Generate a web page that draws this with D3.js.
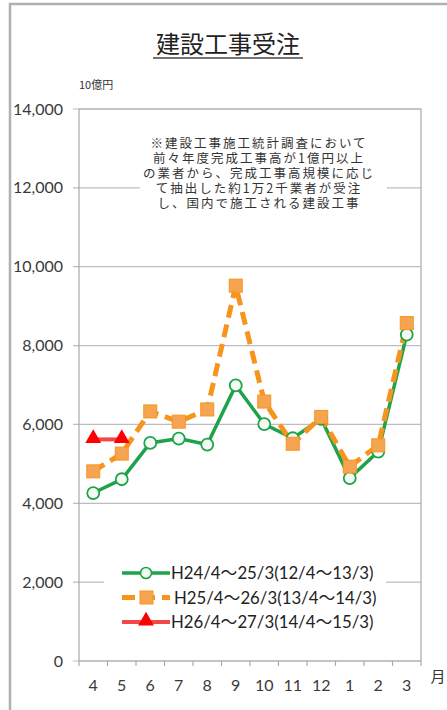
<!DOCTYPE html>
<html>
<head>
<meta charset="utf-8">
<script src="https://cdn.jsdelivr.net/npm/d3@7"></script>
<style>
  body { margin: 0; background: #fff; }
  svg { font-family: Lato, "Noto Sans CJK JP", "Noto Sans", sans-serif; }
  .grid line { stroke: #bdbdbd; stroke-width: 1.2; }
  .axis text { fill: #3a3a3a; font-size: 16px; }
  .axis path, .axis line { stroke: #aaa; stroke-width: 1.2; }
  .jp { font-family: "Noto Sans CJK JP", sans-serif; }
</style>
</head>
<body>
<svg id="chart" width="447" height="710"></svg>
<script>
const months = ['4', '5', '6', '7', '8', '9', '10', '11', '12', '1', '2', '3']
const yTicks = [0, 2000, 4000, 6000, 8000, 10000, 12000, 14000]

const h24 = [4260, 4610, 5530, 5640, 5490, 6990, 6010, 5650, 6140, 4640, 5310, 8280]
const h25 = [4810, 5260, 6330, 6070, 6380, 9520, 6580, 5510, 6190, 4930, 5470, 8570]
const h26 = [5620, 5620]

const legendNames = [
  'H24/4～25/3(12/4～13/3)',
  'H25/4～26/3(13/4～14/3)',
  'H26/4～27/3(14/4～15/3)'
]
const noteLines = [
  '※建設工事施工統計調査において',
  '前々年度完成工事高が1億円以上',
  'の業者から、完成工事高規模に応じ',
  'て抽出した約1万2千業者が受注',
  'し、国内で施工される建設工事'
]

const svg = d3.select('#chart')
const pL = 79, pR = 421, pT = 109, pB = 661

// outer frame
svg.append('rect')
    .attr('x', 10).attr('y', 4)
    .attr('width', 460).attr('height', 720)
    .attr('fill', 'none')
    .attr('stroke', '#b0b0b0')
    .attr('stroke-width', 2.5)

const x = d3.scaleBand().domain(months).range([pL, pR])
const y = d3.scaleLinear().domain([0, 14000]).range([pB, pT])
const cx = d => x(d) + x.bandwidth() / 2

// gridlines
svg.append('g')
    .attr('class', 'grid')
    .selectAll('line')
    .data(yTicks)
    .enter()
    .append('line')
    .attr('x1', pL - 6)
    .attr('x2', pR)
    .attr('y1', d => y(d))
    .attr('y2', d => y(d))

// plot border (top/right/left)
svg.append('path')
    .attr('d', `M${pL},${pB}V${pT}H${pR}V${pB}`)
    .attr('fill', 'none')
    .attr('stroke', '#aaa')
    .attr('stroke-width', 1.2)

// y axis labels
svg.append('g')
    .attr('class', 'axis')
    .selectAll('text')
    .data(yTicks)
    .enter()
    .append('text')
    .attr('x', 63)
    .attr('y', d => y(d) + 5.5)
    .attr('text-anchor', 'end')
    .text(d3.format(','))

// x axis
const xAxis = svg.append('g')
    .attr('class', 'axis')
    .attr('transform', `translate(0,${pB})`)

xAxis.append('line').attr('x1', pL).attr('x2', pR)
xAxis.selectAll('.tk')
    .data(months.concat(['end']))
    .enter()
    .append('line')
    .attr('x1', (d, i) => pL + i * x.bandwidth())
    .attr('x2', (d, i) => pL + i * x.bandwidth())
    .attr('y1', 0).attr('y2', 5)
xAxis.selectAll('text')
    .data(months)
    .enter()
    .append('text')
    .attr('x', d => cx(d))
    .attr('y', 30)
    .attr('text-anchor', 'middle')
    .text(d => d)

svg.append('text')
    .attr('class', 'jp')
    .attr('x', 438).attr('y', 682)
    .attr('text-anchor', 'middle')
    .attr('font-size', 15)
    .attr('fill', '#333')
    .text('月')

// title
svg.append('text')
    .attr('class', 'jp')
    .attr('x', 228).attr('y', 53)
    .attr('text-anchor', 'middle')
    .attr('font-size', 24)
    .attr('fill', '#222')
    .text('建設工事受注')
svg.append('line')
    .attr('x1', 153).attr('x2', 303)
    .attr('y1', 58).attr('y2', 58)
    .attr('stroke', '#444').attr('stroke-width', 1.3)

svg.append('text')
    .attr('class', 'jp')
    .attr('x', 79).attr('y', 89)
    .attr('font-size', 11)
    .attr('fill', '#333')
    .text('10億円')

// note box
svg.append('rect')
    .attr('x', 140).attr('y', 133)
    .attr('width', 247).attr('height', 80)
    .attr('fill', '#fff')
const note = svg.append('text')
    .attr('class', 'jp')
    .attr('font-size', 12.5)
    .attr('letter-spacing', 2)
    .attr('fill', '#333')
note.selectAll('tspan')
    .data(noteLines)
    .enter()
    .append('tspan')
    .attr('x', 259)
    .attr('text-anchor', 'middle')
    .attr('y', (d, i) => 148 + i * 15)
    .text(d => d)

// series
const line = d3.line().x((d, i) => cx(months[i])).y(d => y(d))

svg.append('path')
    .attr('d', line(h24))
    .attr('fill', 'none')
    .attr('stroke', '#1fa34a')
    .attr('stroke-width', 3.5)

svg.append('path')
    .attr('d', line(h25))
    .attr('fill', 'none')
    .attr('stroke', '#f7941d')
    .attr('stroke-width', 5)
    .attr('stroke-dasharray', '13,7')

svg.append('path')
    .attr('d', line(h26))
    .attr('fill', 'none')
    .attr('stroke', '#f24848')
    .attr('stroke-width', 4)

svg.selectAll('.m24')
    .data(h24)
    .enter()
    .append('circle')
    .attr('cx', (d, i) => cx(months[i]))
    .attr('cy', d => y(d))
    .attr('r', 6)
    .attr('fill', '#f4fbf4')
    .attr('stroke', '#1fa34a')
    .attr('stroke-width', 1.8)

svg.selectAll('.m25')
    .data(h25)
    .enter()
    .append('rect')
    .attr('x', (d, i) => cx(months[i]) - 6.5)
    .attr('y', d => y(d) - 6.5)
    .attr('width', 13).attr('height', 13)
    .attr('fill', '#f5a552')
    .attr('stroke', '#f7941d')
    .attr('stroke-width', 1)

const tri = d3.symbol().type(d3.symbolTriangle).size(110)
svg.selectAll('.m26')
    .data(h26)
    .enter()
    .append('path')
    .attr('d', tri)
    .attr('transform', (d, i) => `translate(${cx(months[i])},${y(d) - 1})`)
    .attr('fill', '#ff0000')

// legend
svg.append('rect')
    .attr('x', 104).attr('y', 558)
    .attr('width', 282).attr('height', 80)
    .attr('fill', '#fff')

const lg = svg.append('g')
const rows = [0, 1, 2]
const ly = i => 573 + i * 24.5
const styles = [
  { c: '#1fa34a', w: 3.5, dash: null },
  { c: '#f7941d', w: 5, dash: '13,7' },
  { c: '#f24848', w: 4, dash: null }
]
rows.forEach(i => {
  lg.append('line')
      .attr('x1', 122).attr('x2', 170)
      .attr('y1', ly(i)).attr('y2', ly(i))
      .attr('stroke', styles[i].c)
      .attr('stroke-width', styles[i].w)
      .attr('stroke-dasharray', styles[i].dash)
  lg.append('text')
      .attr('x', i === 1 ? 174 : 171)
      .attr('y', ly(i) + 6)
      .attr('font-size', 16.8)
      .attr('fill', '#222')
      .text(legendNames[i])
})
lg.append('circle').attr('cx', 146).attr('cy', ly(0)).attr('r', 5.5)
    .attr('fill', '#f4fbf4').attr('stroke', '#1fa34a').attr('stroke-width', 1.6)
lg.append('rect').attr('x', 140).attr('y', ly(1) - 6.5).attr('width', 13).attr('height', 13)
    .attr('fill', '#f5a552').attr('stroke', '#f7941d')
lg.append('path').attr('d', tri).attr('transform', `translate(146,${ly(2) - 1})`)
    .attr('fill', '#ff0000')
</script>
</body>
</html>
